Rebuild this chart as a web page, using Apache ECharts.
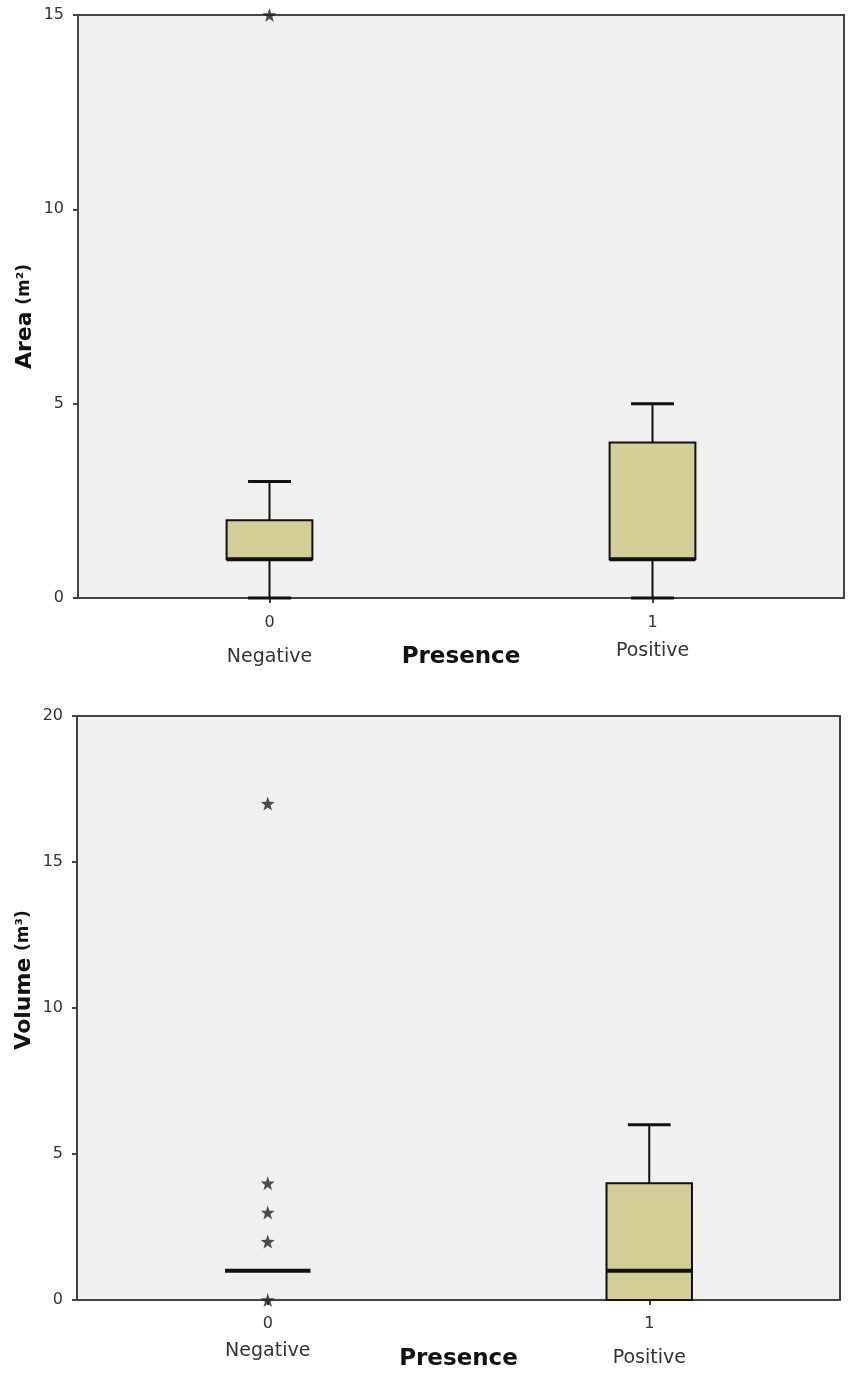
<!DOCTYPE html>
<html>
<head>
<meta charset="utf-8">
<script src="https://cdn.jsdelivr.net/npm/echarts@6/dist/echarts.min.js"></script>
<style>
html,body{margin:0;padding:0;background:#fff;}
#chart{width:849px;height:1375px;}
</style>
</head>
<body>
<div id="chart"></div>
<script>
// ---- data ----
const codes = ["0", "1"];
const groups = ["Negative", "Positive"];
// [min whisker, Q1, median, Q3, max whisker]
const areaBoxes = [[0, 1, 1, 2, 3], [0, 1, 1, 4, 5]];
const areaOutliers = [[0, 15]];          // [category index, value]
const volumeBoxes = [[1, 1, 1, 1, 1], [0, 0, 1, 4, 6]];
const volumeOutliers = [[0, 0], [0, 2], [0, 3], [0, 4], [0, 17]];
const areaTicks = [0, 5, 10, 15];
const volumeTicks = [0, 5, 10, 15, 20];

const STAR = 'path://M0,-10 L2.35,-3.24 L9.51,-3.09 L3.8,1.24 L5.88,8.09 L0,4 L-5.88,8.09 L-3.8,1.24 L-9.51,-3.09 L-2.35,-3.24 Z';
const BOX_FILL = '#d3cd97';
const INK = '#111';

function renderBox(params, api) {
  const x = api.value(0);
  const vals = [api.value(1), api.value(2), api.value(3), api.value(4), api.value(5)];
  const pts = vals.map(v => api.coord([x, v]));
  const bandW = api.size([1, 0])[0];
  const bw = bandW * 0.224;
  const cx = pts[0][0];
  const [pMin, pQ1, pMed, pQ3, pMax] = pts.map(p => p[1]);
  const children = [];
  const ls = { stroke: INK, lineWidth: 2 };
  if (pQ3 - pMax > 0.5) {
    children.push({ type: 'line', shape: { x1: cx, y1: pQ3, x2: cx, y2: pMax }, style: ls });
    children.push({ type: 'line', shape: { x1: cx - bw / 4, y1: pMax, x2: cx + bw / 4, y2: pMax }, style: { stroke: INK, lineWidth: 3 } });
  }
  if (pMin - pQ1 > 0.5) {
    children.push({ type: 'line', shape: { x1: cx, y1: pQ1, x2: cx, y2: pMin }, style: ls });
    children.push({ type: 'line', shape: { x1: cx - bw / 4, y1: pMin, x2: cx + bw / 4, y2: pMin }, style: { stroke: INK, lineWidth: 3 } });
  }
  if (pQ1 - pQ3 > 0.5) {
    children.push({ type: 'rect', shape: { x: cx - bw / 2, y: pQ3, width: bw, height: pQ1 - pQ3 }, style: { fill: BOX_FILL, stroke: INK, lineWidth: 2 } });
  }
  children.push({ type: 'line', shape: { x1: cx - bw / 2, y1: pMed, x2: cx + bw / 2, y2: pMed }, style: { stroke: INK, lineWidth: 4 } });
  return { type: 'group', children };
}

function boxData(boxes) {
  return boxes.map((b, i) => [i].concat(b));
}

const chart = echarts.init(document.getElementById('chart'), null, { renderer: 'canvas' });

function xAxisFor(gridIndex, margin, lhNeg, lhPos, gap) {
  return {
    type: 'category',
    gridIndex,
    data: codes,
    boundaryGap: true,
    axisLine: { lineStyle: { color: '#444', width: 2 } },
    axisTick: { show: true, alignWithLabel: true, length: 5, lineStyle: { color: '#444', width: 2 } },
    axisLabel: {
      margin,
      formatter: (v, i) => '{c|' + v + '}\n{n' + i + '|' + groups[i] + '}',
      rich: {
        c: { fontFamily: 'DejaVu Sans', fontSize: 16, color: '#333', lineHeight: 16 },
        n0: { fontFamily: 'DejaVu Sans', fontSize: 19, color: '#333', lineHeight: lhNeg },
        n1: { fontFamily: 'DejaVu Sans', fontSize: 19, color: '#333', lineHeight: lhPos }
      }
    },
    name: 'Presence',
    nameLocation: 'middle',
    nameGap: gap,
    nameMoveOverlap: false,
    nameTextStyle: { fontFamily: 'DejaVu Sans', fontWeight: 'bold', fontSize: 23, color: '#111' }
  };
}

function yAxisFor(gridIndex, ticks, title, sup, pad) {
  return {
    type: 'value',
    gridIndex,
    min: ticks[0],
    max: ticks[ticks.length - 1],
    interval: ticks[1] - ticks[0],
    splitLine: { show: false },
    axisLine: { show: true, lineStyle: { color: '#444', width: 2 } },
    axisTick: { show: true, length: 5, lineStyle: { color: '#444', width: 2 } },
    axisLabel: { margin: 14, fontFamily: 'DejaVu Sans', fontSize: 16, color: '#333' },
    name: '{t|' + title + '}  {s|(m' + sup + ')}',
    nameLocation: 'middle',
    nameGap: 42,
    nameMoveOverlap: false,
    nameTextStyle: {
      padding: pad,
      rich: {
        t: { fontFamily: 'DejaVu Sans', fontWeight: 'bold', fontSize: 22, color: '#111' },
        s: { fontFamily: 'DejaVu Sans', fontWeight: 'bold', fontSize: 17, color: '#111' }
      }
    }
  };
}

chart.setOption({
  animation: false,
  backgroundColor: '#ffffff',
  grid: [
    { left: 78, right: 5, top: 15, height: 583, outerBoundsMode: 'none', containLabel: false, show: true, backgroundColor: '#f0f0f0', borderColor: '#444', borderWidth: 2 },
    { left: 77, right: 9, top: 716, height: 584, outerBoundsMode: 'none', containLabel: false, show: true, backgroundColor: '#f0f0f0', borderColor: '#444', borderWidth: 2 }
  ],
  xAxis: [
    xAxisFor(0, 17, 52, 40, 48),
    xAxisFor(1, 16, 38, 52, 48)
  ],
  yAxis: [
    yAxisFor(0, areaTicks, 'Area', '²', [0, 20, 0, 0]),
    yAxisFor(1, volumeTicks, 'Volume', '³', [0, 0, 0, 56])
  ],
  series: [
    {
      type: 'custom', xAxisIndex: 0, yAxisIndex: 0,
      renderItem: renderBox, encode: { x: 0, y: [1, 2, 3, 4, 5] },
      data: boxData(areaBoxes), z: 3
    },
    {
      type: 'scatter', xAxisIndex: 0, yAxisIndex: 0,
      symbol: STAR, symbolSize: 14, itemStyle: { color: '#222' },
      data: areaOutliers, z: 4
    },
    {
      type: 'custom', xAxisIndex: 1, yAxisIndex: 1,
      renderItem: renderBox, encode: { x: 0, y: [1, 2, 3, 4, 5] },
      data: boxData(volumeBoxes), z: 3
    },
    {
      type: 'scatter', xAxisIndex: 1, yAxisIndex: 1,
      symbol: STAR, symbolSize: 14, itemStyle: { color: '#222' },
      data: volumeOutliers, z: 4
    }
  ]
});
</script>
</body>
</html>
